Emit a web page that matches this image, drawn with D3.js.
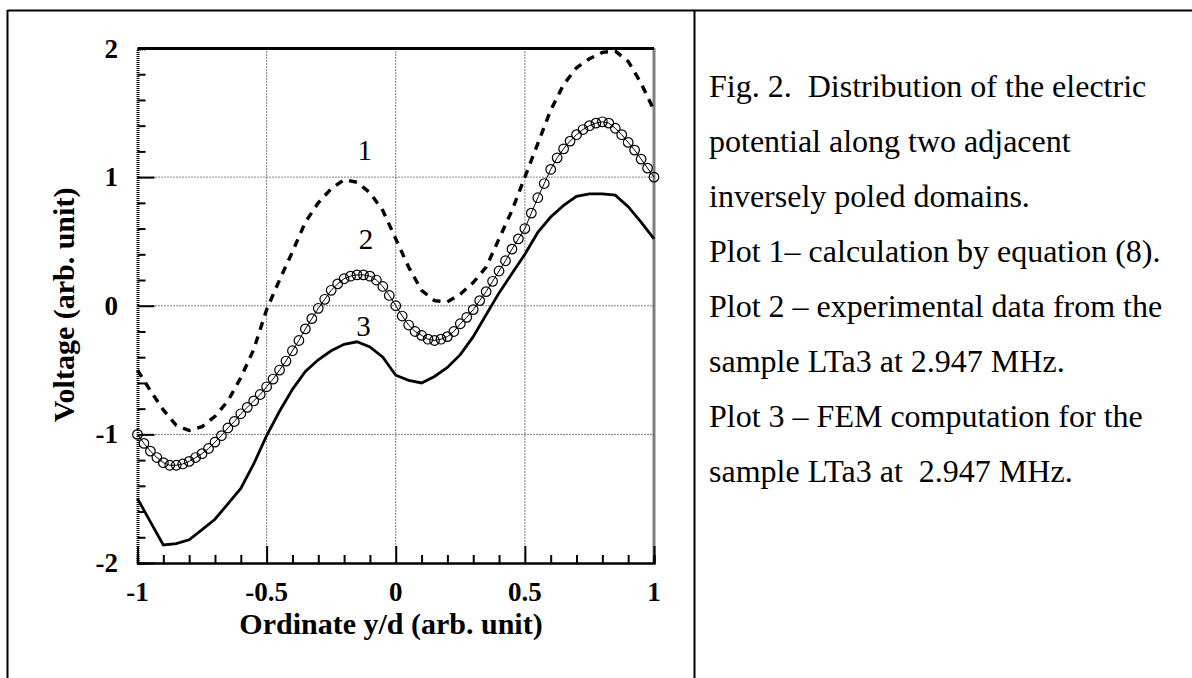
<!DOCTYPE html>
<html>
<head>
<meta charset="utf-8">
<script src="https://cdn.jsdelivr.net/npm/d3@7"></script>
<style>
  body { margin:0; background:#fff; }
  svg text { white-space: pre; }
</style>
</head>
<body>
<div id="chart"></div>
<script>
// x positions of the computed curves (plots 1 and 3)
let xCoarse = [-1,-0.95,-0.9,-0.85,-0.8,-0.75,-0.7,-0.65,-0.6,-0.55,-0.5,-0.45,-0.4,-0.35,-0.3,-0.25,-0.2,-0.15,-0.1,-0.05,
  0,0.05,0.1,0.15,0.2,0.25,0.3,0.35,0.4,0.45,0.5,0.55,0.6,0.65,0.7,0.75,0.8,0.85,0.9,0.95,1]
// plot 1 - calculation by equation (8), dashed
let plot1 = [-0.50,-0.66,-0.81,-0.93,-0.97,-0.94,-0.86,-0.74,-0.56,-0.34,-0.03,0.20,0.42,0.65,0.80,0.91,0.98,0.96,0.88,0.74,
  0.52,0.30,0.12,0.04,0.03,0.09,0.18,0.30,0.52,0.74,1.00,1.26,1.52,1.72,1.85,1.92,1.97,1.98,1.90,1.73,1.52]
// plot 3 - FEM computation, solid
let plot3 = [-1.50,-1.68,-1.86,-1.85,-1.82,-1.74,-1.66,-1.54,-1.42,-1.23,-1.01,-0.82,-0.65,-0.51,-0.42,-0.35,-0.30,-0.28,-0.32,-0.40,
  -0.54,-0.58,-0.60,-0.55,-0.48,-0.38,-0.24,-0.07,0.10,0.25,0.40,0.57,0.69,0.78,0.85,0.87,0.87,0.86,0.77,0.65,0.52]

// plot 2 - experimental points, open circles
let xFine = [-1,-0.975,-0.95,-0.925,-0.9,-0.875,-0.85,-0.825,-0.8,-0.775,-0.75,-0.725,-0.7,-0.675,-0.65,-0.625,-0.6,-0.575,-0.55,-0.525,
  -0.5,-0.475,-0.45,-0.425,-0.4,-0.375,-0.35,-0.325,-0.3,-0.275,-0.25,-0.225,-0.2,-0.175,-0.15,-0.125,-0.1,-0.075,-0.05,-0.025,
  0,0.025,0.05,0.075,0.1,0.125,0.15,0.175,0.2,0.225,0.25,0.275,0.3,0.325,0.35,0.375,0.4,0.425,0.45,0.475,
  0.5,0.525,0.55,0.575,0.6,0.625,0.65,0.675,0.7,0.725,0.75,0.775,0.8,0.825,0.85,0.875,0.9,0.925,0.95,0.975,1]
let plot2 = [-1.00,-1.07,-1.13,-1.18,-1.22,-1.24,-1.24,-1.23,-1.21,-1.18,-1.15,-1.11,-1.06,-1.01,-0.95,-0.90,-0.84,-0.79,-0.74,-0.69,
  -0.63,-0.57,-0.50,-0.43,-0.35,-0.27,-0.18,-0.10,-0.02,0.05,0.12,0.17,0.21,0.23,0.24,0.24,0.23,0.20,0.15,0.08,
  0.00,-0.08,-0.15,-0.20,-0.23,-0.26,-0.27,-0.26,-0.24,-0.20,-0.14,-0.09,-0.03,0.04,0.11,0.19,0.27,0.35,0.44,0.52,
  0.60,0.72,0.84,0.95,1.06,1.15,1.22,1.28,1.33,1.37,1.40,1.42,1.43,1.42,1.38,1.33,1.27,1.21,1.14,1.07,1.00]

let xTicks = [-1,-0.5,0,0.5,1]
let xTickLabels = ['-1','-0.5','0','0.5','1']
let yTicks = [-2,-1,0,1,2]
let yTickLabels = ['-2','-1','0','1','2']
let curveLabels = [{t:'1', x:-0.12, y:1.21}, {t:'2', x:-0.115, y:0.52}, {t:'3', x:-0.125, y:-0.16}]

let caption = [
  'Fig. 2.  Distribution of the electric',
  'potential along two adjacent',
  'inversely poled domains.',
  'Plot 1\u2013 calculation by equation (8).',
  'Plot 2 \u2013 experimental data from the',
  'sample LTa3 at 2.947 MHz.',
  'Plot 3 \u2013 FEM computation for the',
  'sample LTa3 at  2.947 MHz.'
]

let width = 1192, height = 678
let plot = { left:137.5, right:654, top:48.5, bottom:563 }

let svg = d3.select('#chart').append('svg')
  .attr('width', width).attr('height', height)
svg.append('rect').attr('width', width).attr('height', height).attr('fill', '#fff')

// table frame
svg.append('line').attr('x1',7.5).attr('x2',width).attr('y1',10.5).attr('y2',10.5).attr('stroke','#000').attr('stroke-width',2)
svg.append('line').attr('x1',7.5).attr('x2',7.5).attr('y1',10).attr('y2',height).attr('stroke','#000').attr('stroke-width',2)
svg.append('line').attr('x1',694.5).attr('x2',694.5).attr('y1',10).attr('y2',height).attr('stroke','#000').attr('stroke-width',2)

let xScale = d3.scaleLinear().domain([-1,1]).range([plot.left, plot.right])
let yScale = d3.scaleLinear().domain([-2,2]).range([plot.bottom, plot.top])

let g = svg.append('g')

// dotted grid
g.selectAll('.gx').data([-0.5,0,0.5]).enter().append('line')
  .attr('x1', d=>xScale(d)).attr('x2', d=>xScale(d))
  .attr('y1', plot.top).attr('y2', plot.bottom)
  .attr('stroke','#000').attr('stroke-width',1).attr('stroke-dasharray','1,2')
g.selectAll('.gy').data([-1,0,1]).enter().append('line')
  .attr('x1', plot.left).attr('x2', plot.right)
  .attr('y1', d=>yScale(d)).attr('y2', d=>yScale(d))
  .attr('stroke','#000').attr('stroke-width',1).attr('stroke-dasharray','1,2')

// bottom axis, ticks pointing inward
let xAxis = d3.axisBottom(xScale).tickValues(d3.range(-10,11).map(d=>d/10)).tickSize(-8).tickFormat('')
let xGroup = g.append('g').attr('transform',`translate(0,${plot.bottom})`).call(xAxis)
xGroup.select('.domain').attr('stroke-width',2.5)
xGroup.selectAll('.tick line').attr('stroke-width',2).attr('y2', d=>Math.abs(d*2 - Math.round(d*2))<1e-6 ? -17 : -8)

// left axis, ticks pointing inward
let yAxis = d3.axisLeft(yScale).tickValues(d3.range(-10,11).map(d=>d/5)).tickSize(-8).tickFormat('')
let yGroup = g.append('g').attr('transform',`translate(${plot.left},0)`).call(yAxis)
yGroup.select('.domain').attr('stroke-width',3).attr('stroke-dasharray','1,1')
yGroup.selectAll('.tick line').attr('stroke-width',2).attr('x2', d=>Math.abs(d-Math.round(d))<1e-6 ? 17 : 8)

// top and right frame
g.append('line').attr('x1',plot.left).attr('x2',plot.right).attr('y1',plot.top).attr('y2',plot.top)
  .attr('stroke','#000').attr('stroke-width',3)
g.append('line').attr('x1',plot.right).attr('x2',plot.right).attr('y1',plot.top).attr('y2',plot.bottom)
  .attr('stroke','#000').attr('stroke-width',3).attr('stroke-dasharray','1,1')

// tick labels
g.selectAll('.xl').data(xTicks).enter().append('text')
  .attr('x', d=>xScale(d)).attr('y', plot.bottom + 38)
  .attr('text-anchor','middle').attr('font-family','Liberation Serif').attr('font-weight','bold').attr('font-size',27)
  .text((d,i)=>xTickLabels[i])
g.selectAll('.yl').data(yTicks).enter().append('text')
  .attr('x', 118).attr('y', d=>yScale(d) + 9)
  .attr('text-anchor','end').attr('font-family','Liberation Serif').attr('font-weight','bold').attr('font-size',27)
  .text((d,i)=>yTickLabels[i])

// axis titles
g.append('text').attr('x',391).attr('y',634).attr('text-anchor','middle')
  .attr('font-family','Liberation Serif').attr('font-weight','bold').attr('font-size',30)
  .text('Ordinate y/d (arb. unit)')
g.append('text').attr('transform','translate(74,305) rotate(-90)').attr('text-anchor','middle')
  .attr('font-family','Liberation Serif').attr('font-weight','bold').attr('font-size',30)
  .text('Voltage (arb. unit)')

// curves
let line = d3.line().x(d=>xScale(d[0])).y(d=>yScale(d[1]))
let d1 = xCoarse.map((x,i)=>[x, plot1[i]])
let d2 = xFine.map((x,i)=>[x, plot2[i]])
let d3s = xCoarse.map((x,i)=>[x, plot3[i]])

g.append('path').attr('d', line(d1)).attr('fill','none').attr('stroke','#000')
  .attr('stroke-width',3.4).attr('stroke-dasharray','8,7')
g.append('path').attr('d', line(d3s)).attr('fill','none').attr('stroke','#000').attr('stroke-width',2.8)
g.append('path').attr('d', line(d2)).attr('fill','none').attr('stroke','#000').attr('stroke-width',1)
g.selectAll('.pt').data(d2).enter().append('circle')
  .attr('cx', d=>xScale(d[0])).attr('cy', d=>yScale(d[1])).attr('r',4.8)
  .attr('fill','none').attr('stroke','#000').attr('stroke-width',1.2)

// curve numbers
g.selectAll('.cl').data(curveLabels).enter().append('text')
  .attr('x', d=>xScale(d.x)).attr('y', d=>yScale(d.y) + 10)
  .attr('text-anchor','middle').attr('font-family','Liberation Serif').attr('font-size',29)
  .text(d=>d.t)

// caption in right cell
svg.selectAll('.cap').data(caption).enter().append('text')
  .attr('x', 709).attr('y', (d,i)=>97 + i*55)
  .attr('font-family','Liberation Serif').attr('font-size',32).attr('fill','#000')
  .text(d=>d)
</script>
</body>
</html>
